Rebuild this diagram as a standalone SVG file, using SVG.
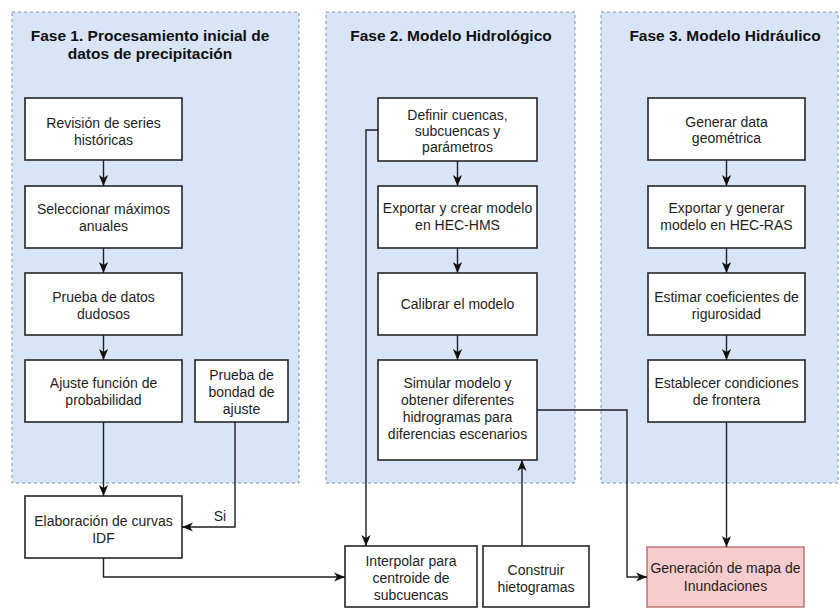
<svg xmlns="http://www.w3.org/2000/svg" width="840" height="609" viewBox="0 0 840 609">
<defs>
<style>
.panel{fill:#d8e5f8;stroke:#7f93ad;stroke-width:1;stroke-dasharray:3 3}
.box{fill:#ffffff;stroke:#262626;stroke-width:1.6}
.pink{fill:#f6cdcc;stroke:#b86e6b;stroke-width:1.4}
.t{font-family:"Liberation Sans",Arial,sans-serif;font-size:14px;fill:#1e1e1e;text-anchor:middle}
.h{font-family:"Liberation Sans",Arial,sans-serif;font-size:15.5px;font-weight:bold;fill:#111;text-anchor:middle}
.c{fill:none;stroke:#1e1e1e;stroke-width:1.4}
</style>
<marker id="arr" viewBox="0 0 10 10" refX="10" refY="5" markerWidth="11" markerHeight="11" orient="auto" markerUnits="userSpaceOnUse">
<path d="M0,0.8 L10,5 L0,9.2 L2.8,5 z" fill="#111"/>
</marker>
</defs>
<rect width="840" height="609" fill="#ffffff"/>

<g id="fase1">
<rect class="panel" x="12" y="12" width="287" height="471"/>
<text class="h" x="150" y="41">Fase 1. Procesamiento inicial de</text>
<text class="h" x="150" y="59">datos de precipitación</text>
</g>
<g id="fase2">
<rect class="panel" x="326" y="12" width="249" height="471"/>
<text class="h" x="451" y="41">Fase 2. Modelo Hidrológico</text>
</g>
<g id="fase3">
<rect class="panel" x="601" y="12" width="237" height="471"/>
<text class="h" x="725" y="41">Fase 3. Modelo Hidráulico</text>
</g>

<g id="n1"><rect class="box" x="25" y="98" width="157" height="62"/>
<text class="t" x="103.5" y="128">Revisión de series</text><text class="t" x="103.5" y="145">históricas</text></g>
<g id="n2"><rect class="box" x="25" y="186" width="157" height="62"/>
<text class="t" x="103.5" y="214">Seleccionar máximos</text><text class="t" x="103.5" y="231">anuales</text></g>
<g id="n3"><rect class="box" x="25" y="273" width="157" height="62"/>
<text class="t" x="103.5" y="302">Prueba de datos</text><text class="t" x="103.5" y="319">dudosos</text></g>
<g id="n4"><rect class="box" x="25" y="360" width="157" height="62"/>
<text class="t" x="103.5" y="388">Ajuste función de</text><text class="t" x="103.5" y="405">probabilidad</text></g>
<g id="n5"><rect class="box" x="195" y="360" width="93" height="62"/>
<text class="t" x="241.5" y="380">Prueba de</text><text class="t" x="241.5" y="397">bondad de</text><text class="t" x="241.5" y="414">ajuste</text></g>
<g id="n6"><rect class="box" x="25" y="496" width="157" height="62"/>
<text class="t" x="103.5" y="526">Elaboración de curvas</text><text class="t" x="103.5" y="543">IDF</text></g>

<g id="m1"><rect class="box" x="378" y="98" width="159" height="63"/>
<text class="t" x="457.5" y="120">Definir cuencas,</text><text class="t" x="457.5" y="136">subcuencas y</text><text class="t" x="457.5" y="152">parámetros</text></g>
<g id="m2"><rect class="box" x="378" y="186" width="159" height="62"/>
<text class="t" x="457.5" y="213">Exportar y crear modelo</text><text class="t" x="457.5" y="230">en HEC-HMS</text></g>
<g id="m3"><rect class="box" x="378" y="273" width="159" height="62"/>
<text class="t" x="457.5" y="309">Calibrar el modelo</text></g>
<g id="m4"><rect class="box" x="378" y="360" width="159" height="100"/>
<text class="t" x="457.5" y="388">Simular modelo y</text><text class="t" x="457.5" y="405">obtener diferentes</text><text class="t" x="457.5" y="422">hidrogramas para</text><text class="t" x="457.5" y="439">diferencias escenarios</text></g>

<g id="r1"><rect class="box" x="648" y="98" width="157" height="62"/>
<text class="t" x="726.5" y="127">Generar data</text><text class="t" x="726.5" y="143">geométrica</text></g>
<g id="r2"><rect class="box" x="648" y="186" width="157" height="62"/>
<text class="t" x="726.5" y="213">Exportar y generar</text><text class="t" x="726.5" y="230">modelo en HEC-RAS</text></g>
<g id="r3"><rect class="box" x="648" y="273" width="157" height="62"/>
<text class="t" x="726.5" y="302">Estimar coeficientes de</text><text class="t" x="726.5" y="319">rigurosidad</text></g>
<g id="r4"><rect class="box" x="648" y="360" width="157" height="62"/>
<text class="t" x="726.5" y="388">Establecer condiciones</text><text class="t" x="726.5" y="405">de frontera</text></g>

<g id="b1"><rect class="box" x="345" y="546" width="132" height="61"/>
<text class="t" x="411" y="566">Interpolar para</text><text class="t" x="411" y="583">centroide de</text><text class="t" x="411" y="600">subcuencas</text></g>
<g id="b2"><rect class="box" x="483" y="546" width="106" height="61"/>
<text class="t" x="536" y="575">Construir</text><text class="t" x="536" y="592">hietogramas</text></g>
<g id="b3"><rect class="pink" x="647" y="547" width="157" height="60"/>
<text class="t" x="725.5" y="573">Generación de mapa de</text><text class="t" x="725.5" y="591">Inundaciones</text></g>

<g id="connectors">
<path class="c" d="M103.5,160 V186" marker-end="url(#arr)"/>
<path class="c" d="M103.5,248 V273" marker-end="url(#arr)"/>
<path class="c" d="M103.5,335 V360" marker-end="url(#arr)"/>
<path class="c" d="M103.5,422 V496" marker-end="url(#arr)"/>
<path class="c" d="M235,422 V527 H182" marker-end="url(#arr)"/>
<text class="t" x="220" y="521">Si</text>
<path class="c" d="M103.5,558 V577 H345" marker-end="url(#arr)"/>
<path class="c" d="M457.5,161 V186" marker-end="url(#arr)"/>
<path class="c" d="M457.5,248 V273" marker-end="url(#arr)"/>
<path class="c" d="M457.5,335 V360" marker-end="url(#arr)"/>
<path class="c" d="M378,130 H366 V546" marker-end="url(#arr)"/>
<path class="c" d="M522,546 V460" marker-end="url(#arr)"/>
<path class="c" d="M537,410 H627 V577 H647" marker-end="url(#arr)"/>
<path class="c" d="M726.5,160 V186" marker-end="url(#arr)"/>
<path class="c" d="M726.5,248 V273" marker-end="url(#arr)"/>
<path class="c" d="M726.5,335 V360" marker-end="url(#arr)"/>
<path class="c" d="M726.5,422 V547" marker-end="url(#arr)"/>
</g>
</svg>
